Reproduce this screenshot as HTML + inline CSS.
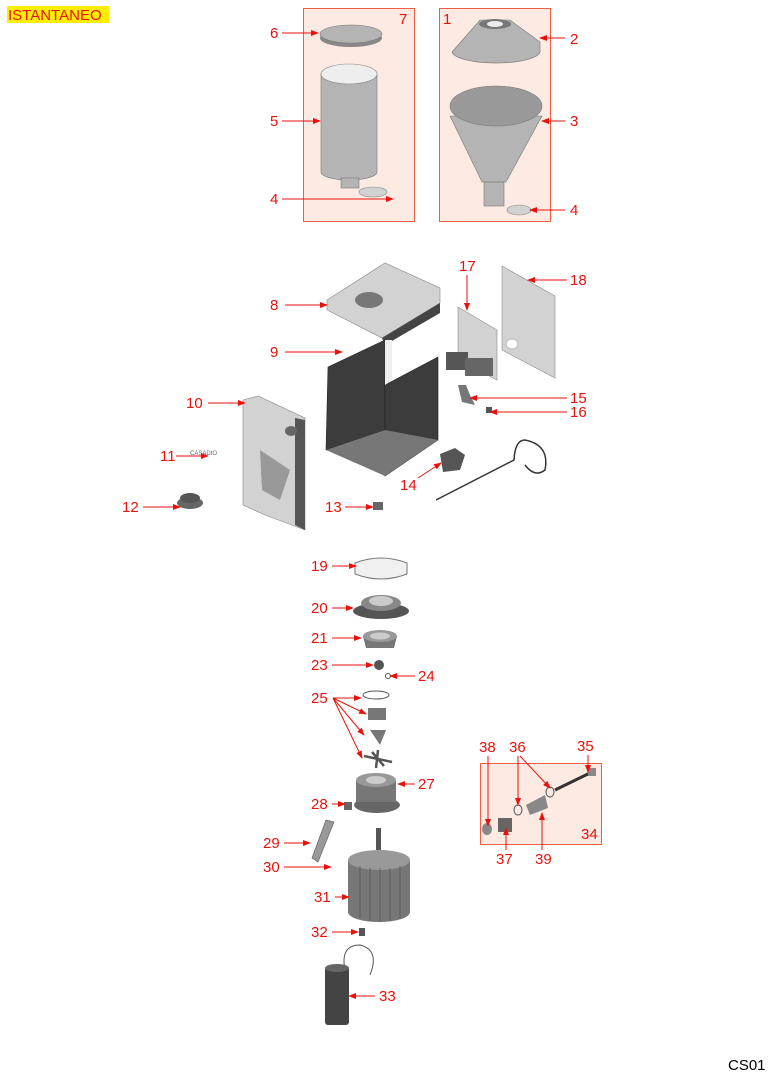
<!DOCTYPE html>
<html><head><style>
html,body{margin:0;padding:0;background:#fff;width:769px;height:1075px;overflow:hidden}
svg{display:block}
text{font-family:"Liberation Sans",Arial,sans-serif;font-size:15px;fill:#e8120c}
.l{stroke:#e8120c;stroke-width:1;fill:none}
.g{fill:#b4b4b4;stroke:#777;stroke-width:.6}
.lg{fill:#d2d2d2;stroke:#888;stroke-width:.6}
.d{fill:#3c3c3c;stroke:#222;stroke-width:.6}
</style></head><body>
<svg width="769" height="1075" viewBox="0 0 769 1075">
<defs><marker id="a" markerWidth="8" markerHeight="6" refX="7" refY="3" orient="auto" markerUnits="userSpaceOnUse"><path d="M0,0 L8,3 L0,6z" fill="#e8120c"/></marker></defs>
<rect x="7" y="6" width="102" height="17" fill="#ffee00"/>
<text x="8" y="20">ISTANTANEO</text>
<!-- boxes -->
<rect x="303.5" y="8.5" width="111" height="213" fill="#fdeae2" stroke="#f06040"/>
<rect x="439.5" y="8.5" width="111" height="213" fill="#fdeae2" stroke="#f06040"/>
<rect x="480.5" y="763.5" width="121" height="81" fill="#fdeae2" stroke="#f06040"/>
<!-- box A parts -->
<ellipse cx="351" cy="38" rx="31" ry="9" fill="#888"/><ellipse cx="351" cy="34" rx="31" ry="9" class="g"/>
<path d="M301 74 L301 172 A28 8 0 0 0 357 172 L357 74z" class="g" transform="translate(20,0)"/>
<ellipse cx="349" cy="74" rx="28" ry="10" fill="#eee" stroke="#888" stroke-width=".6"/>
<rect x="341" y="178" width="18" height="10" class="g"/>
<ellipse cx="373" cy="192" rx="14" ry="5" class="lg"/>
<!-- box B parts -->
<path d="M452 52 L480 20 L510 20 L540 42 L540 50 A44 12 0 0 1 452 52z" class="g"/>
<ellipse cx="495" cy="24" rx="16" ry="5" fill="#777"/><ellipse cx="495" cy="24" rx="8" ry="3" fill="#eee"/>
<path d="M450 116 L482 182 L506 182 L542 116z" class="g"/>
<ellipse cx="496" cy="106" rx="46" ry="20" fill="#999" stroke="#777" stroke-width=".6"/>
<rect x="484" y="182" width="20" height="24" class="g"/>
<ellipse cx="519" cy="210" rx="12" ry="5" class="lg"/>
<!-- housing -->
<path d="M327 300 L385 263 L440 288 L440 303 L382 338 L327 310z" class="lg"/>
<ellipse cx="369" cy="300" rx="14" ry="8" fill="#777"/>
<path d="M382 338 L440 303 L440 313 L385 345z" fill="#444"/>
<path d="M328 367 L385 340 L385 430 L326 450z" class="d"/>
<path d="M385 385 L438 357 L438 440 L385 476z" class="d"/>
<path d="M326 450 L385 476 L438 440 L385 430z" fill="#777"/>
<path d="M385 340 L392 340 L392 380 L385 385z" fill="#eee"/>
<!-- front 10 -->
<path d="M243 400 L258 396 L305 418 L305 530 L265 515 L243 505z" class="lg"/>
<path d="M295 418 L305 420 L305 530 L295 525z" fill="#555"/>
<ellipse cx="291" cy="431" rx="6" ry="5" fill="#666"/>
<path d="M260 450 L290 470 L280 500 L262 490z" fill="#999"/>
<text x="190" y="455" style="font-size:6px;fill:#666">CASADIO</text>
<!-- 12,13 -->
<ellipse cx="190" cy="503" rx="13" ry="6" fill="#666"/><ellipse cx="190" cy="498" rx="10" ry="5" fill="#555"/>
<rect x="373" y="502" width="10" height="8" fill="#666"/>
<!-- 17,18 -->
<path d="M458 307 L497 330 L497 380 L458 360z" class="lg"/>
<rect x="446" y="352" width="22" height="18" fill="#555"/><rect x="465" y="358" width="28" height="18" fill="#666"/>
<path d="M502 266 L555 296 L555 378 L502 350z" class="lg"/>
<ellipse cx="512" cy="344" rx="6" ry="5" fill="#fff" stroke="#888" stroke-width=".5"/>
<path d="M458 385 L466 385 L470 395 L475 405 L462 402z" fill="#777"/>
<rect x="486" y="407" width="6" height="6" fill="#555"/>
<path d="M440 454 L455 448 L465 455 L460 470 L443 472z" fill="#555"/>
<path d="M436 500 L514 460 Q515 440 525 440 Q550 445 545 470 Q535 478 525 465" stroke="#333" stroke-width="1.5" fill="none"/>
<!-- grinder stack -->
<path d="M355 563 Q381 553 407 563 L407 574 Q381 584 355 574z" fill="#f0f0f0" stroke="#777"/>
<ellipse cx="381" cy="611" rx="28" ry="8" fill="#555"/><ellipse cx="381" cy="603" rx="20" ry="8" fill="#888"/><ellipse cx="381" cy="601" rx="12" ry="5" fill="#ccc"/>
<path d="M363 636 L397 636 L394 648 L366 648z" fill="#777"/><ellipse cx="380" cy="636" rx="17" ry="6" fill="#999"/><ellipse cx="380" cy="636" rx="10" ry="3.5" fill="#ccc"/>
<circle cx="379" cy="665" r="5" fill="#555"/><circle cx="388" cy="676" r="2.5" fill="none" stroke="#555"/>
<ellipse cx="376" cy="695" rx="13" ry="4" fill="none" stroke="#555"/>
<rect x="368" y="708" width="18" height="12" fill="#777"/>
<path d="M370 730 L386 730 L380 745z" fill="#777"/>
<path d="M364 756 L392 762 M372 752 L384 766 M378 750 L376 768" stroke="#555" stroke-width="2.5"/>
<ellipse cx="377" cy="805" rx="23" ry="8" fill="#666"/><rect x="356" y="780" width="40" height="22" fill="#777"/><ellipse cx="376" cy="780" rx="20" ry="7" fill="#999"/><ellipse cx="376" cy="780" rx="10" ry="4" fill="#ccc"/>
<rect x="344" y="802" width="8" height="8" fill="#666"/>
<path d="M312 858 L326 820 L334 822 L318 862z" fill="#999" stroke="#555" stroke-width=".6"/>
<rect x="376" y="828" width="5" height="22" fill="#555"/>
<path d="M348 860 L348 912 A31 10 0 0 0 410 912 L410 860z" fill="#777"/>
<ellipse cx="379" cy="860" rx="31" ry="10" fill="#999"/>
<path d="M360 866 V918 M370 868 V921 M380 868 V922 M390 868 V921 M400 866 V918" stroke="#555" stroke-width=".8"/>
<rect x="359" y="928" width="6" height="8" fill="#555"/>
<path d="M345 970 Q340 945 360 945 Q380 950 370 975" stroke="#555" fill="none"/>
<rect x="325" y="967" width="24" height="58" rx="3" fill="#444"/><ellipse cx="337" cy="968" rx="12" ry="4" fill="#666"/>
<!-- box C parts -->
<ellipse cx="487" cy="829" rx="5" ry="6" fill="#888"/>
<rect x="498" y="818" width="14" height="14" fill="#666"/><ellipse cx="518" cy="810" rx="4" ry="5" fill="none" stroke="#555"/>
<path d="M526 805 L545 795 L548 808 L530 815z" fill="#888"/><ellipse cx="550" cy="792" rx="4" ry="5" fill="none" stroke="#555"/>
<path d="M555 790 L592 772" stroke="#333" stroke-width="3"/><rect x="588" y="768" width="8" height="8" fill="#888"/>
<!-- labels & connectors -->
<text x="399" y="24">7</text><text x="443" y="24">1</text>
<text x="270" y="38">6</text><path class="l" d="M282 33H318" marker-end="url(#a)"/>
<text x="570" y="44">2</text><path class="l" d="M565 38H540" marker-end="url(#a)"/>
<text x="270" y="126">5</text><path class="l" d="M282 121H320" marker-end="url(#a)"/>
<text x="570" y="126">3</text><path class="l" d="M565 121H542" marker-end="url(#a)"/>
<text x="270" y="204">4</text><path class="l" d="M282 199H393" marker-end="url(#a)"/>
<text x="570" y="215">4</text><path class="l" d="M565 210H530" marker-end="url(#a)"/>
<text x="270" y="310">8</text><path class="l" d="M285 305H327" marker-end="url(#a)"/>
<text x="459" y="271">17</text><path class="l" d="M467 275V310" marker-end="url(#a)"/>
<text x="570" y="285">18</text><path class="l" d="M567 280H528" marker-end="url(#a)"/>
<text x="270" y="357">9</text><path class="l" d="M285 352H342" marker-end="url(#a)"/>
<text x="186" y="408">10</text><path class="l" d="M208 403H245" marker-end="url(#a)"/>
<text x="570" y="403">15</text><path class="l" d="M567 398H470" marker-end="url(#a)"/>
<text x="570" y="417">16</text><path class="l" d="M567 412H490" marker-end="url(#a)"/>
<text x="160" y="461">11</text><path class="l" d="M176 456H208" marker-end="url(#a)"/>
<text x="400" y="490">14</text><path class="l" d="M418 478L441 463" marker-end="url(#a)"/>
<text x="122" y="512">12</text><path class="l" d="M143 507H180" marker-end="url(#a)"/>
<text x="325" y="512">13</text><path class="l" d="M345 507H373" marker-end="url(#a)"/>
<text x="311" y="571">19</text><path class="l" d="M332 566H356" marker-end="url(#a)"/>
<text x="311" y="613">20</text><path class="l" d="M332 608H353" marker-end="url(#a)"/>
<text x="311" y="643">21</text><path class="l" d="M332 638H361" marker-end="url(#a)"/>
<text x="311" y="670">23</text><path class="l" d="M332 665H373" marker-end="url(#a)"/>
<text x="418" y="681">24</text><path class="l" d="M415 676H390" marker-end="url(#a)"/>
<text x="311" y="703">25</text>
<path class="l" d="M333 698H361" marker-end="url(#a)"/><path class="l" d="M333 698L366 714" marker-end="url(#a)"/>
<path class="l" d="M333 698L364 735" marker-end="url(#a)"/><path class="l" d="M333 698L362 758" marker-end="url(#a)"/>
<text x="418" y="789">27</text><path class="l" d="M415 784H398" marker-end="url(#a)"/>
<text x="311" y="809">28</text><path class="l" d="M332 804H345" marker-end="url(#a)"/>
<text x="263" y="848">29</text><path class="l" d="M284 843H310" marker-end="url(#a)"/>
<text x="263" y="872">30</text><path class="l" d="M284 867H331" marker-end="url(#a)"/>
<text x="314" y="902">31</text><path class="l" d="M335 897H349" marker-end="url(#a)"/>
<text x="311" y="937">32</text><path class="l" d="M332 932H358" marker-end="url(#a)"/>
<text x="379" y="1001">33</text><path class="l" d="M375 996H349" marker-end="url(#a)"/>
<text x="479" y="752">38</text><path class="l" d="M488 756V826" marker-end="url(#a)"/>
<text x="509" y="752">36</text><path class="l" d="M518 756V805" marker-end="url(#a)"/><path class="l" d="M520 756L550 788" marker-end="url(#a)"/>
<text x="577" y="751">35</text><path class="l" d="M588 755V772" marker-end="url(#a)"/>
<text x="581" y="839">34</text>
<text x="496" y="864">37</text><path class="l" d="M506 850V828" marker-end="url(#a)"/>
<text x="535" y="864">39</text><path class="l" d="M542 850V813" marker-end="url(#a)"/>
<text x="728" y="1070" style="fill:#000">CS01</text>
</svg>
</body></html>
